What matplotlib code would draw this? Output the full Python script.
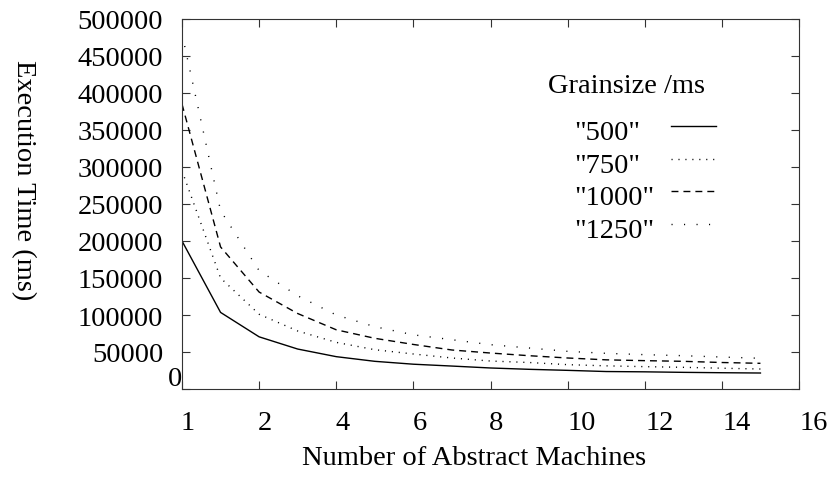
import matplotlib
matplotlib.use('Agg')
import matplotlib.pyplot as plt
from matplotlib.lines import Line2D
from matplotlib.transforms import ScaledTranslation
import numpy as np

plt.rcParams['font.family'] = ['Liberation Serif', 'DejaVu Serif']
plt.rcParams['lines.scale_dashes'] = False

# values
machines = [1, 2, 3, 4, 5, 6, 7, 8, 9, 10, 11, 12, 13, 14, 15, 16]
t_500 = [200000, 103500, 70500, 54000, 43700, 37400, 33500, 31000,
         28400, 26600, 25200, 23600, 23200, 22500, 22000, 21600]
t_750 = [295000, 150000, 101000, 78400, 63000, 53100, 47300, 41900,
         37800, 35800, 32900, 31300, 30200, 29300, 28100, 27000]
t_1000 = [385000, 192000, 131000, 102000, 80000, 68500, 60200, 52700,
          48600, 45000, 41900, 39400, 38300, 37400, 35800, 34700]
t_1250 = [480000, 241000, 160000, 126000, 100000, 84200, 73200, 66600,
          59900, 55400, 50900, 48200, 46400, 45000, 43200, 41500]

series_labels = ['"500"', '"750"', '"1000"', '"1250"']
xtick_labels = ['1', '2', '4', '6', '8', '10', '12', '14', '16']

styles = ['-', (0, (0.8, 4.2)), (0, (5.0, 3.6)), (0, (0.8, 8.2))]
FS = 20.5

fig = plt.figure(figsize=(8.3, 4.81), dpi=100)
ax = fig.add_axes([182 / 830, 1 - 390 / 481, 617 / 830, 370 / 481])

x = np.array(machines) - 1
for vals, ls in zip([t_500, t_750, t_1000, t_1250], styles):
    ax.plot(x, vals, color='black', lw=1.0, linestyle=ls)

ax.set_xlim(0, 16)
ax.set_ylim(0, 500000)
ax.set_xticks(np.arange(0, 17, 2))
ax.set_xticklabels(xtick_labels)
ax.set_yticks(np.arange(0, 500001, 50000))

ax.tick_params(direction='in', length=6, width=0.8, top=True, right=True,
               labelsize=FS, color='#333333')
ax.tick_params(axis='x', pad=15)
ax.tick_params(axis='y', pad=13.5)
for sp in ax.spines.values():
    sp.set_linewidth(0.8)
    sp.set_color('#333333')

# gnuplot puts the tick labels a bit off their ticks
for lbl, txt in zip(ax.get_xticklabels(), xtick_labels):
    dx = 6 if len(txt) == 1 else 14.5
    lbl.set_transform(lbl.get_transform() + ScaledTranslation(dx / 100, 0, fig.dpi_scale_trans))
zero = ax.get_yticklabels()[0]
zero.set_transform(zero.get_transform() + ScaledTranslation(19 / 100, 13 / 100, fig.dpi_scale_trans))

ax.set_xlabel('Number of Abstract Machines', fontsize=FS, va='baseline')
ax.xaxis.set_label_coords(0.4733, -0.2016)
ax.set_ylabel('Execution Time (ms)', fontsize=FS, rotation=-90, va='center', ha='center')
ax.yaxis.set_label_coords(-0.2577, 0.5676)

# key, drawn like gnuplot's: labels left, samples right
ax.text(0.5932, 0.8027, 'Grainsize /ms', transform=ax.transAxes, fontsize=FS, va='baseline')
row0, step = 0.6757, 0.0883
for i, (lab, ls) in enumerate(zip(series_labels, styles)):
    yb = row0 - i * step
    ax.text(0.6353, yb, lab, transform=ax.transAxes, fontsize=FS, va='baseline')
    yl = yb + 13 / 370
    ax.add_line(Line2D([0.7925, 0.8655], [yl, yl], transform=ax.transAxes,
                       color='black', lw=1.0, linestyle=ls))

fig.savefig('out.png', dpi=100)
